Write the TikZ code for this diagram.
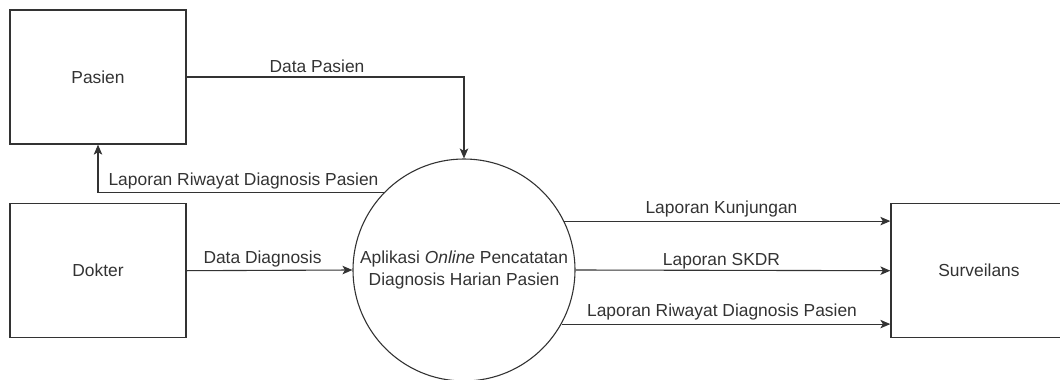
\documentclass[tikz,border=0pt]{standalone}
\usepackage{fontspec}
\setmainfont{Liberation Sans}
\usetikzlibrary{arrows.meta}
\definecolor{ink}{HTML}{333333}
\begin{document}
\begin{tikzpicture}[x=1pt,y=-1pt,
  every node/.style={text=ink, font=\fontsize{17.4}{22}\selectfont},
  entity/.style={draw=ink, line width=1.3pt, fill=white, minimum width=176pt, minimum height=134pt, inner sep=0pt},
  process/.style={draw=ink, line width=1.1pt, circle, minimum size=222pt, inner sep=0pt, align=center},
  flow/.style={draw=ink, line width=1.1pt, -{Stealth[length=10pt,width=8.5pt,inset=2.5pt]}},
  lbl/.style={inner sep=0pt, anchor=base}
]
\useasboundingbox (0,0) rectangle (1060,380);
\clip (0,0) rectangle (1060,380);

% external entities and the process
\node[entity] (pas) at (98,77) {Pasien};
\node[entity] (dok) at (98,270.7) {Dokter};
\node[entity] (sur) at (979,270.7) {Surveilans};
\node[process] (app) at (464,270) {Aplikasi \textit{Online} Pencatatan\\Diagnosis Harian Pasien};

% data flows
\draw[flow] (pas.east) -| (app.north);
\draw[flow] (app.136.1) -| (pas.south);
\draw[flow] (dok.east) -- (app.west);
\draw[flow] (app.26.2) -- (app.26.2 -| sur.west);
\draw[flow] (app.east) -- (sur.west);
\draw[flow] (app.-29.1) -- (app.-29.1 -| sur.west);

% flow labels
\node[lbl] (tpas) at (317,72) {Data Pasien};
\node[lbl] (triw1) at (243.5,185.5) {Laporan Riwayat Diagnosis Pasien};
\node[lbl] (tdiag) at (262.5,263.5) {Data Diagnosis};
\node[lbl] (tkun) at (721.5,213) {Laporan Kunjungan};
\node[lbl] (tskdr) at (721.5,265) {Laporan SKDR};
\node[lbl] (triw2) at (722,316.5) {Laporan Riwayat Diagnosis Pasien};
\end{tikzpicture}
\end{document}
